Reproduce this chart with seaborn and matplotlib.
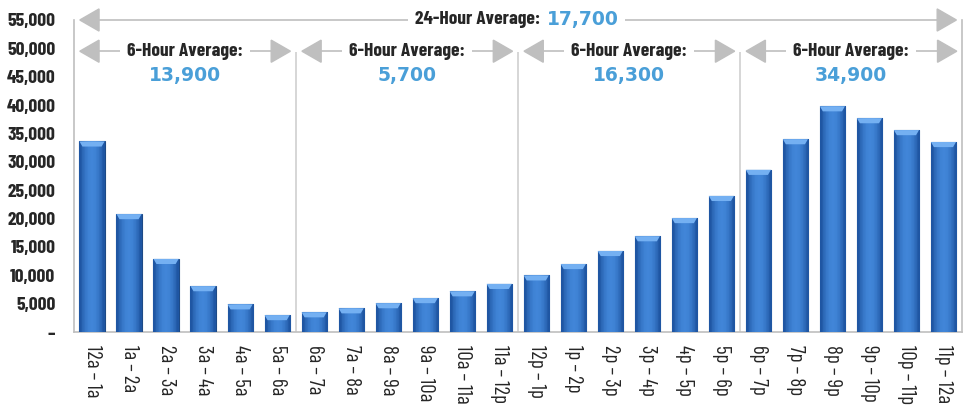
import matplotlib.pyplot as plt
import numpy as np
import pandas as pd
import seaborn as sns
from matplotlib.patches import Polygon

# Dados do gráfico
horas = ['12a – 1a', '1a – 2a', '2a – 3a', '3a – 4a', '4a – 5a', '5a – 6a',
         '6a – 7a', '7a – 8a', '8a – 9a', '9a – 10a', '10a – 11a', '11a – 12p',
         '12p – 1p', '1p – 2p', '2p – 3p', '3p – 4p', '4p – 5p', '5p – 6p',
         '6p – 7p', '7p – 8p', '8p – 9p', '9p – 10p', '10p – 11p', '11p – 12a']
valores = [33600, 20800, 12900, 8100, 4900, 3000,
           3500, 4200, 5100, 6000, 7200, 8500,
           10000, 12000, 14300, 16900, 20100, 24000,
           28600, 34000, 39800, 37700, 35600, 33500]
medias_6h = ['13,900', '5,700', '16,300', '34,900']
media_24h = '17,700'
yticks = list(range(0, 55001, 5000))

df = pd.DataFrame({'hora': horas, 'valor': valores})

cinza = '#bfbfbf'
azul_txt = '#4a9fd8'
fonte = ['Barlow Condensed', 'DejaVu Sans']

sns.set_style('white')
plt.rcParams['font.family'] = fonte

fig = plt.figure(figsize=(9.71, 4.08), dpi=100)
ax = fig.add_axes([0.0757, 0.186, 0.915, 0.765])

sns.barplot(data=df, x='hora', y='valor', color='#3a7fd5', width=0.68,
            edgecolor='#1d4a86', linewidth=0.8, ax=ax, zorder=3)

# Gradiente horizontal nas barras (efeito 3D)
grad = np.array([[0.0, 0.35, 0.6, 0.75, 0.8, 0.75, 0.6, 0.35, 0.0]])
cmap = sns.blend_palette(['#1f56a3', '#4a92e6'], as_cmap=True)
for p in ax.patches:
    x0, w, h = p.get_x(), p.get_width(), p.get_height()
    im = ax.imshow(grad, extent=[x0, x0 + w, 0, h], aspect='auto',
                   cmap=cmap, vmin=0, vmax=1, zorder=3.5)
    im.set_clip_path(p)
    # Tampa superior mais clara
    cap = Polygon([[x0, h], [x0 + w, h], [x0 + w * 0.88, h - 900],
                   [x0 + w * 0.12, h - 900]], closed=True,
                  facecolor='#74b0f2', edgecolor='none', zorder=3.6)
    ax.add_patch(cap)

ax.set_xlim(-0.5, 23.5)
ax.set_ylim(0, 55000)
ax.set(xlabel='', ylabel='')

ax.set_yticks(yticks)
ax.set_yticklabels(['–' if v == 0 else f'{v:,}' for v in yticks],
                   fontsize=14, fontweight='bold')
ax.set_xticks(range(len(horas)))
ax.set_xticklabels(horas, rotation=270, fontsize=15, va='top', ha='center')
ax.set_xticks(np.arange(-0.5, 24, 1), minor=True)
ax.tick_params(axis='x', which='major', length=0, pad=9)
ax.tick_params(axis='x', which='minor', length=5, color=cinza, direction='out')
ax.tick_params(axis='y', length=5, color=cinza, direction='out', pad=8)

for lado in ['left', 'bottom', 'right']:
    ax.spines[lado].set_color(cinza)
    ax.spines[lado].set_linewidth(1.2)
ax.spines['top'].set_visible(False)

# Separadores dos blocos de 6 horas
ax.vlines([5.5, 11.5, 17.5], 0, 49400, color='#d0d0d0', lw=1.2, zorder=1)


def seta(ax, x_ini, x_fim, y):
    ax.plot([x_ini + 0.3, x_fim - 0.3], [y, y], color=cinza, lw=1.2,
            zorder=2, clip_on=False)
    meia = 1950
    ax.add_patch(Polygon([[x_ini, y], [x_ini + 0.52, y + meia], [x_ini + 0.52, y - meia]],
                         closed=True, color=cinza, zorder=2, clip_on=False))
    ax.add_patch(Polygon([[x_fim, y], [x_fim - 0.52, y + meia], [x_fim - 0.52, y - meia]],
                         closed=True, color=cinza, zorder=2, clip_on=False))


caixa = dict(facecolor='white', edgecolor='none', pad=5)

# Seta de 24 horas
seta(ax, -0.33, 23.35, 55000)
ax.text(12.12, 55000, '24-Hour Average:', ha='right', va='center', fontsize=14,
        fontweight='bold', bbox=caixa, zorder=4, clip_on=False)
ax.text(12.28, 55000, media_24h, ha='left', va='center', fontsize=13.5,
        fontweight='heavy', color=azul_txt, family='DejaVu Sans', bbox=caixa,
        zorder=4, clip_on=False)

# Setas de 6 horas
for i, media in enumerate(medias_6h):
    x_ini = -0.5 + 6 * i + 0.17
    x_fim = -0.5 + 6 * (i + 1) - 0.14
    seta(ax, x_ini, x_fim, 49500)
    centro = 6 * i + 2.5
    ax.text(centro, 49500, '6-Hour Average:', ha='center', va='center',
            fontsize=14, fontweight='bold', bbox=caixa, zorder=4)
    ax.text(centro, 45300, media, ha='center', va='center', fontsize=13.5,
            fontweight='heavy', color=azul_txt, family='DejaVu Sans', zorder=4)

fig.savefig('out.png', dpi=100)
